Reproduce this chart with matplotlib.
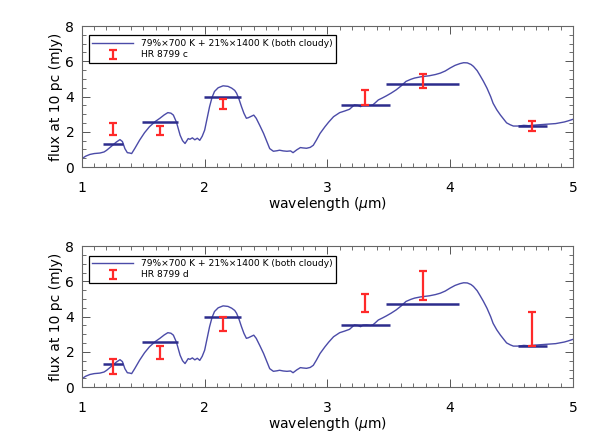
import matplotlib
matplotlib.use("Agg")
import matplotlib.pyplot as plt
from matplotlib.ticker import MultipleLocator

# ---- data ----
model_wl = [1.00, 1.03, 1.065, 1.10, 1.147, 1.18, 1.20, 1.24, 1.28, 1.31, 1.33, 1.35, 1.37, 1.39, 1.405,
            1.43, 1.47, 1.51, 1.55, 1.60, 1.635, 1.67, 1.70, 1.725, 1.745, 1.77, 1.80, 1.82, 1.84,
            1.866, 1.88, 1.90, 1.92, 1.94, 1.96, 1.98, 2.00, 2.02, 2.04, 2.06, 2.08, 2.11, 2.15, 2.19,
            2.22, 2.245, 2.26, 2.28, 2.30, 2.32, 2.34, 2.355, 2.37, 2.40, 2.42, 2.45, 2.48, 2.51, 2.53,
            2.56, 2.59, 2.61, 2.64, 2.67, 2.70, 2.72, 2.75, 2.78, 2.80, 2.83, 2.86, 2.885, 2.91, 2.94,
            2.98, 3.01, 3.05, 3.10, 3.14, 3.18, 3.22, 3.25, 3.27, 3.29, 3.32, 3.35, 3.37, 3.39, 3.415,
            3.45, 3.48, 3.52, 3.56, 3.60, 3.64, 3.68, 3.71, 3.76, 3.83, 3.88, 3.92, 3.96, 4.00, 4.04,
            4.08, 4.11, 4.14, 4.17, 4.19, 4.22, 4.24, 4.27, 4.30, 4.33, 4.35, 4.38, 4.41, 4.44, 4.46,
            4.49, 4.515, 4.55, 4.57, 4.60, 4.64, 4.68, 4.72, 4.75, 4.79, 4.83, 4.86, 4.89, 4.93, 4.96, 5.00]
model_flux = [0.48, 0.62, 0.72, 0.77, 0.80, 0.86, 0.95, 1.18, 1.42, 1.56, 1.45, 1.05, 0.82, 0.80, 0.77,
              1.05, 1.53, 1.95, 2.29, 2.60, 2.77, 2.96, 3.09, 3.06, 2.95, 2.55, 1.81, 1.50, 1.34,
              1.62, 1.58, 1.66, 1.55, 1.64, 1.52, 1.75, 2.10, 2.75, 3.43, 3.95, 4.29, 4.50, 4.61, 4.58,
              4.48, 4.35, 4.19, 3.85, 3.43, 3.05, 2.77, 2.80, 2.85, 2.95, 2.77, 2.35, 1.91, 1.40, 1.05,
              0.90, 0.93, 0.96, 0.92, 0.90, 0.92, 0.82, 0.98, 1.11, 1.09, 1.07, 1.12, 1.24, 1.53, 1.91,
              2.29, 2.55, 2.86, 3.09, 3.18, 3.28, 3.53, 3.50, 3.43, 3.52, 3.53, 3.50, 3.53, 3.65, 3.81,
              3.93, 4.04, 4.20, 4.38, 4.60, 4.86, 4.98, 5.05, 5.12, 5.18, 5.25, 5.33, 5.45, 5.62, 5.77,
              5.87, 5.92, 5.91, 5.82, 5.71, 5.47, 5.24, 4.88, 4.48, 4.00, 3.62, 3.25, 2.95, 2.68, 2.51,
              2.40, 2.33, 2.33, 2.34, 2.37, 2.35, 2.38, 2.40, 2.42, 2.43, 2.45, 2.47, 2.51, 2.56, 2.62, 2.71]

band_lo = [1.168, 1.486, 1.996, 3.11, 3.48, 4.55]
band_hi = [1.331, 1.780, 2.300, 3.51, 4.07, 4.79]
band_model = [1.34, 2.55, 3.96, 3.53, 4.71, 2.34]

obs_wl = [1.25, 1.635, 2.146, 3.31, 3.78, 4.67]
c_flux = [2.15, 2.09, 3.57, 3.95, 4.89, 2.33]
c_err = [0.33, 0.24, 0.29, 0.43, 0.41, 0.30]
d_flux = [1.17, 1.97, 3.60, 4.78, 5.76, 3.29]
d_err = [0.45, 0.35, 0.40, 0.50, 0.81, 0.96]

planet_names = ["HR 8799 c", "HR 8799 d"]
model_label = "79%×700 K + 21%×1400 K (both cloudy)"

# ---- styling ----
plt.rcParams['font.family'] = ['DejaVu Sans']
curve_color = '#4b4ba8'
bar_color = '#2c2c8c'
err_color = '#ff2a2a'

fig = plt.figure(figsize=(5.98, 4.41), dpi=100)
ax_top = fig.add_axes([0.137, 0.621, 0.821, 0.320])
ax_bot = fig.add_axes([0.137, 0.122, 0.821, 0.320])

for ax, fl, er, name in [(ax_top, c_flux, c_err, planet_names[0]),
                         (ax_bot, d_flux, d_err, planet_names[1])]:
    ax.plot(model_wl, model_flux, color=curve_color, lw=1.0, label=model_label)
    ax.hlines(band_model, band_lo, band_hi, color=bar_color, lw=1.8)
    ax.errorbar(obs_wl, fl, yerr=er, fmt='none', ecolor=err_color, elinewidth=1.6,
                capsize=3, capthick=1.6, label=name)
    ax.set_xlim(1, 5)
    ax.set_ylim(0, 8)
    ax.xaxis.set_major_locator(MultipleLocator(1))
    ax.xaxis.set_minor_locator(MultipleLocator(0.1))
    ax.yaxis.set_major_locator(MultipleLocator(2))
    ax.yaxis.set_minor_locator(MultipleLocator(0.5))
    ax.tick_params(which='both', direction='in', top=True, right=True,
                   colors='#555555', labelcolor='black', labelsize=10)
    ax.tick_params(which='major', length=6, width=0.7)
    ax.tick_params(which='minor', length=3, width=0.6)
    ax.tick_params(axis='x', which='major', pad=10)
    ax.tick_params(axis='y', which='major', pad=5.5)
    for s in ax.spines.values():
        s.set_color('#666666')
        s.set_linewidth(0.8)
    ax.set_xlabel(r'wavelength ($\mu$m)', fontsize=10, labelpad=0)
    ax.set_ylabel('flux at 10 pc (mJy)', fontsize=10, labelpad=2)
    leg = ax.legend(loc='upper left', bbox_to_anchor=(0.014, 0.933), borderaxespad=0,
                    fontsize=6.6, handlelength=4.4, handletextpad=0.9, borderpad=0.4,
                    labelspacing=0.25, fancybox=False, framealpha=1, edgecolor='black')
    leg.get_frame().set_linewidth(0.9)

fig.savefig('out.png', dpi=100)
